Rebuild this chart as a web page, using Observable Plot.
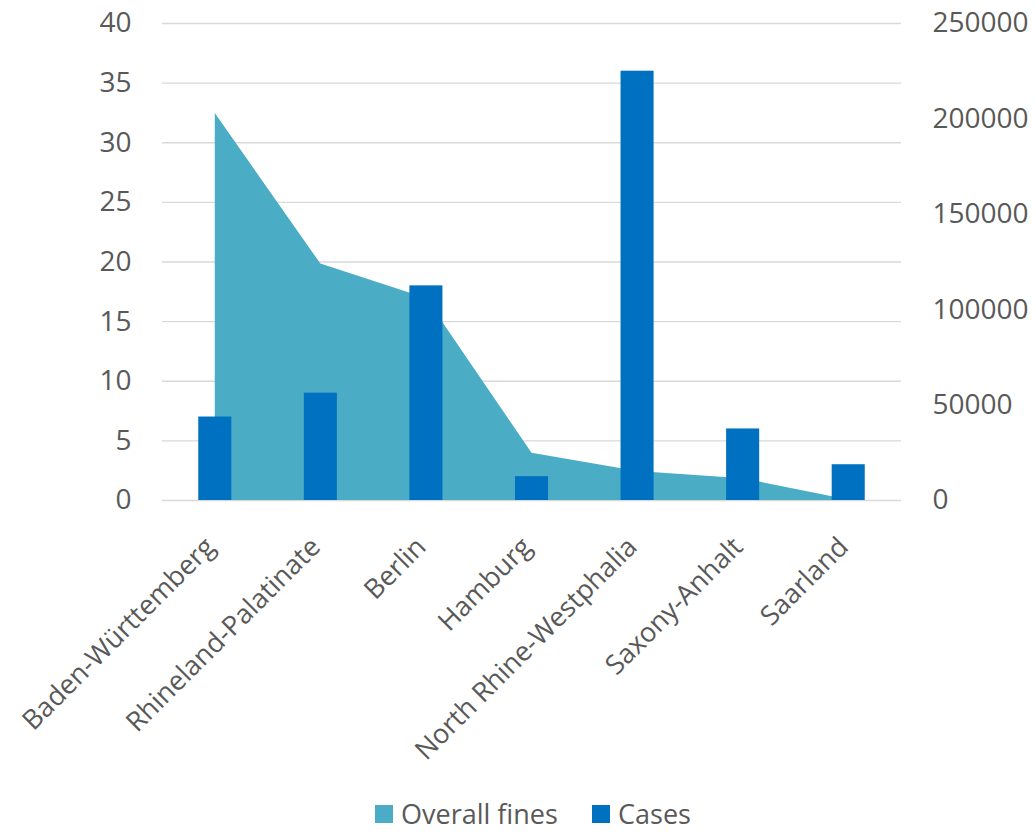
<!DOCTYPE html>
<html>
<head>
<meta charset="utf-8">
<script src="https://cdn.jsdelivr.net/npm/d3@7"></script>
<script src="https://cdn.jsdelivr.net/npm/@observablehq/plot@0.6"></script>
<style>
  body { margin: 0; background: #fff; font-family: "Open Sans", sans-serif; }
  #chart { width: 1035px; height: 790px; }
  #chart svg { display: block; }
  #legend { position: relative; width: 1035px; height: 44px; font-size: 27px; color: #595959; }
  .item { position: absolute; top: 10px; height: 28px; line-height: 28px; display: flex; align-items: center; white-space: nowrap; }
  .sw { width: 18px; height: 18px; margin-right: 8px; display: inline-block; }
</style>
</head>
<body>
<div id="chart"></div>
<div id="legend"></div>
<script>
const states = ["Baden-Württemberg", "Rhineland-Palatinate", "Berlin", "Hamburg", "North Rhine-Westphalia", "Saxony-Anhalt", "Saarland"];
const cases = [7, 9, 18, 2, 36, 6, 3];
const fines = [202800, 123900, 105900, 24800, 15200, 11400, 300];
const leftTicks = [0, 5, 10, 15, 20, 25, 30, 35, 40];
const rightTicks = [0, 50000, 100000, 150000, 200000, 250000];
const seriesNames = ["Overall fines", "Cases"];
const seriesColors = ["#4BACC6", "#0070C0"];

const leftMax = 40, rightMax = 250000;
const toLeft = v => v * leftMax / rightMax;
const data = states.map((s, i) => ({state: s, cases: cases[i], fines: fines[i]}));

const chart = Plot.plot({
  width: 1035,
  height: 790,
  marginLeft: 162,
  marginRight: 134,
  marginTop: 23,
  marginBottom: 290,
  style: {fontFamily: "Open Sans, sans-serif", fontSize: "25px", color: "#595959", background: "#fff"},
  x: {domain: states, paddingInner: 0.687, paddingOuter: 0.3435, round: false, label: null},
  y: {domain: [0, leftMax], label: null},
  marks: [
    Plot.gridY(leftTicks, {stroke: "#d9d9d9", strokeOpacity: 1, strokeWidth: 1.4}),
    Plot.areaY(data, {x: "state", y: d => toLeft(d.fines), fill: seriesColors[0], fillOpacity: 1, curve: "linear"}),
    Plot.barY(data, {x: "state", y: "cases", fill: seriesColors[1]}),
    Plot.axisY(leftTicks, {anchor: "left", tickSize: 0, tickPadding: 31, fontSize: 28, label: null}),
    Plot.axisY(rightTicks.map(toLeft), {anchor: "right", tickSize: 0, tickPadding: 31, fontSize: 28, label: null,
      tickFormat: (d) => String(Math.round(d * rightMax / leftMax))}),
    Plot.axisX({tickSize: 0, tickPadding: 42, dx: -5, tickRotate: -45, fontSize: 27, label: null})
  ]
});
document.getElementById("chart").appendChild(chart);

const legend = document.getElementById("legend");
const lefts = [375, 592];
seriesNames.forEach((n, i) => {
  const it = document.createElement("div");
  it.className = "item";
  it.style.left = lefts[i] + "px";
  it.innerHTML = `<span class="sw" style="background:${seriesColors[i]}"></span><span>${n}</span>`;
  legend.appendChild(it);
});
</script>
</body>
</html>
